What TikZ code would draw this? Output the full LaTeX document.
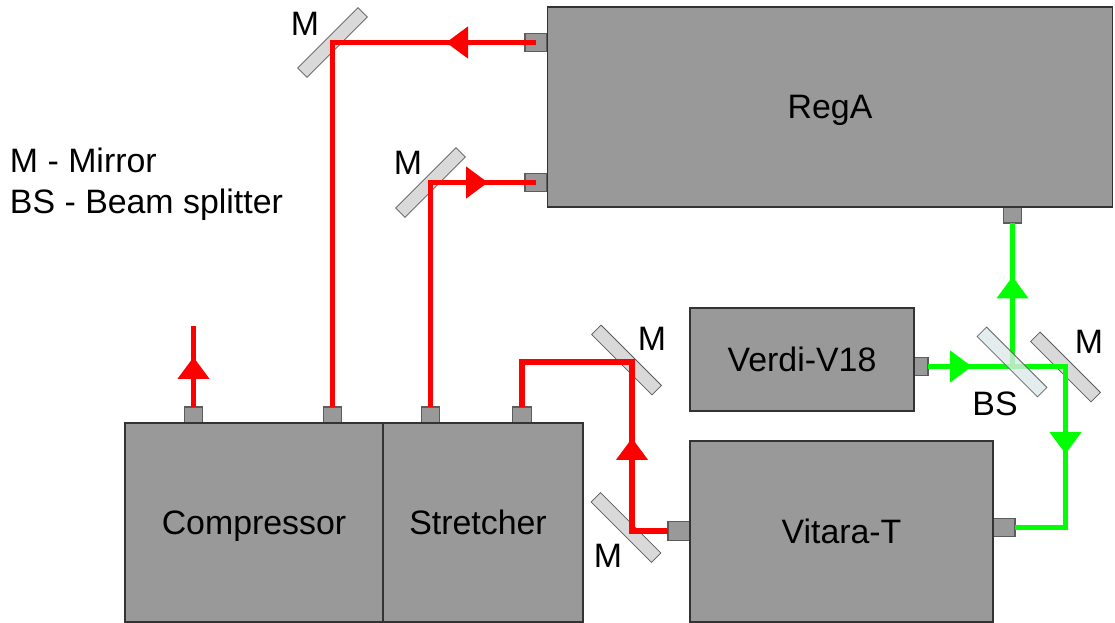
\documentclass[tikz,border=0pt]{standalone}
\usepackage{fontspec}
\setmainfont{Liberation Sans}
\usetikzlibrary{arrows.meta,decorations.markings}
\definecolor{boxgray}{HTML}{999999}
\definecolor{edgegray}{HTML}{333333}
\definecolor{mirrorgray}{HTML}{D9D9D9}
\definecolor{bsfill}{HTML}{DCE8E8}
\definecolor{beamred}{HTML}{FF0000}
\definecolor{beamgreen}{HTML}{00FF00}
\tikzset{
  base/.style={inner sep=0pt,outer sep=0pt,font=\fontsize{25.4}{30}\selectfont,text height=18pt,text depth=0pt},
  unit/.style={base,rectangle,draw=edgegray,line width=1.1pt,fill=boxgray},
  port/.style={rectangle,inner sep=0pt,outer sep=0pt,draw=edgegray!80,line width=.8pt,fill=boxgray},
  mirror/.style={rectangle,inner sep=0pt,outer sep=0pt,minimum width=64pt,minimum height=10pt,draw=black!65,line width=.6pt,fill=mirrorgray},
  splitter/.style={mirror,draw=black!60,fill=bsfill,fill opacity=.8},
  caption/.style={base,text=black},
  legendline/.style={inner sep=0pt,outer sep=0pt,font=\fontsize{25.4}{30}\selectfont,text=black,anchor=base west},
  beam/.style={line width=4.3pt,line join=miter,line cap=butt},
  redbeam/.style={beam,draw=beamred,color=beamred},
  greenbeam/.style={beam,draw=beamgreen,color=beamgreen},
  tipat/.style={postaction={decorate,decoration={markings,mark=at position #1 with {\arrow{Triangle[length=16.5pt,width=23pt]}}}}},
}
\begin{document}
\begin{tikzpicture}[x=0.75pt,y=-0.75pt]
\useasboundingbox (0,0) rectangle (1115,623);
% ports
\node[port,minimum width=16.5pt,minimum height=14pt] (pa) at (536,42.5) {};
\node[port,minimum width=16.5pt,minimum height=14pt] (pb) at (536,182.5) {};
\node[port,minimum width=14pt,minimum height=12pt] (pc) at (1012.5,215) {};
\node[port,minimum width=10.5pt,minimum height=14pt] (pv) at (921,366.5) {};
\node[port,minimum width=16.5pt,minimum height=14pt] (pl) at (679,531) {};
\node[port,minimum width=16.5pt,minimum height=14pt] (pr) at (1004,527.5) {};
\node[port,minimum width=14pt,minimum height=12pt] (po) at (193.5,415) {};
\node[port,minimum width=14pt,minimum height=12pt] (pt) at (332.5,415) {};
\node[port,minimum width=14pt,minimum height=12pt] (ps) at (430.5,415) {};
\node[port,minimum width=14pt,minimum height=12pt] (pq) at (522,415) {};
% units
\node[unit,minimum width=424pt,minimum height=150pt] (rega) at (830,107) {RegA};
\node[unit,minimum width=168pt,minimum height=77pt] (verdi) at (802,359.5) {Verdi-V18};
\node[unit,minimum width=227pt,minimum height=136pt] (vitara) at (841.5,531.5) {Vitara-T};
\node[unit,minimum width=193.5pt,minimum height=149pt] (comp) at (254,522.5) {Compressor};
\node[unit,minimum width=150pt,minimum height=149pt] (stre) at (483,522.5) {};
\node[caption] (stretxt) at (478,523) {Stretcher};
% mirrors
\node[mirror,rotate=45] (m1) at (332.5,42.5) {};
\node[mirror,rotate=45] (m2) at (430.5,182.5) {};
\node[mirror,rotate=-45] (m3) at (626.5,360) {};
\node[mirror,rotate=-45] (m4) at (626,527.5) {};
\node[mirror,rotate=-45] (m5) at (1065.5,367) {};
% beam bends
\coordinate (b3a) at (632,531);
\coordinate (b3b) at (632,362);
\coordinate (b3c) at (522,362);
\coordinate (g1) at (1065.5,366.5);
\coordinate (g2) at (1065.5,527.5);
\coordinate (g3) at (1012.5,366.5);
\coordinate (out) at (193.5,326);
% red beams
\draw[redbeam,tipat=67.5pt] (pa.center) -- (m1.center) -- (pt.north);
\draw[redbeam,tipat=211.5pt] (ps.north) -- (m2.center) -- (pb.center);
\draw[redbeam,tipat=96.75pt] (pl.west) -- (b3a) -- (b3b) -- (b3c) -- (pq.north);
\draw[redbeam,tipat=37.5pt] (po.north) -- (out);
% green beams
\draw[greenbeam,tipat=33pt,tipat=168.75pt] (pv.east) -- (g1) -- (g2) -- (pr.east);
\draw[greenbeam,tipat=67.5pt] (g3) -- (pc.south);
% beam splitter over the beams
\node[splitter,rotate=-45] (bs) at (1012,362) {};
% captions
\node[caption] (lm1) at (305,24) {M};
\node[caption] (lm2) at (408,163) {M};
\node[caption] (lm3) at (652,339) {M};
\node[caption] (lm4) at (608,556) {M};
\node[caption] (lm5) at (1089,342) {M};
\node[caption] (lbs) at (995,404) {BS};
\node[legendline] (leg1) at (10,173) {M - Mirror};
\node[legendline] (leg2) at (10,214) {BS - Beam splitter};
\end{tikzpicture}
\end{document}
